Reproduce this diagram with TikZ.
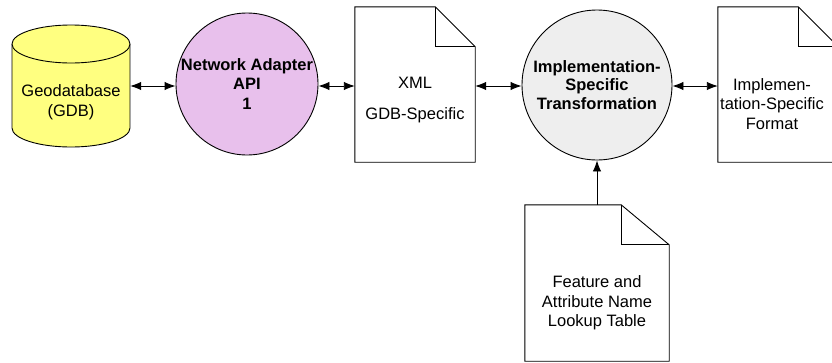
\documentclass[tikz,border=0pt]{standalone}
\usepackage{fontspec}
\setmainfont{Liberation Sans}
\usetikzlibrary{arrows.meta}
\definecolor{dbyellow}{RGB}{255,255,128}
\definecolor{apipurple}{RGB}{232,192,236}
\definecolor{trgray}{RGB}{238,238,238}
\begin{document}
\begin{tikzpicture}[x=1pt,y=-1pt,
  every node/.style={font=\fontsize{16.5}{19.5}\selectfont, align=center, inner sep=0pt},
  lw/.style={line width=0.9pt},
  conn/.style={lw, {Latex[length=11pt,width=8.5pt]}-{Latex[length=11pt,width=8.5pt]}},
  oneway/.style={lw, -{Latex[length=11pt,width=8.5pt]}},
  frame/.style={draw=none, rectangle, minimum width=#1},
  circ/.style={circle, draw, lw, minimum size=#1},
]
\useasboundingbox (0,0) rectangle (832,362);
\begin{scope}
\clip (-1,-1) rectangle (833,363);
% cylinder
\fill[dbyellow] (12,44) rectangle (130,128);
\fill[dbyellow] (71,128) ellipse [x radius=59, y radius=19];
\draw[lw] (12,44) -- (12,128) arc[start angle=180, end angle=0, x radius=59, y radius=19] -- (130,44);
\draw[lw, fill=dbyellow] (71,44) ellipse [x radius=59, y radius=19];
\node[frame=118, minimum height=122] (gdb) at (71,86) {};
\node at (71,102) {Geodatabase\\(GDB)};

% API circle
\node[circ=142pt, fill=apipurple, font=\bfseries\fontsize{16.5}{19.5}\selectfont] (api) at (247,84) {Network Adapter\\API\\1};

% XML doc
\node[frame=120, minimum height=155] (xml) at (415,84.5) {};
\draw[lw, fill=white] (xml.south west) -- (xml.north west) -- ([xshift=-40]xml.north east) -- ([yshift=-40]xml.north east) -- (xml.south east) -- cycle;
\draw[lw] ([xshift=-40]xml.north east) -- ([xshift=-40,yshift=-40]xml.north east) -- ([yshift=-40]xml.north east);
\node at (415,100) {XML\\[11pt]GDB-Specific};

% Transformation circle
\node[circ=150pt, fill=trgray, font=\bfseries\fontsize{16.5}{18.5}\selectfont] (tr) at (597,85) {Implementation-\\Specific\\Transformation};

% Implementation specific format doc
\node[frame=120, minimum height=155] (fmt) at (778,84.5) {};
\draw[lw, fill=white] (fmt.south west) -- (fmt.north west) -- ([xshift=-40]fmt.north east) -- ([yshift=-40]fmt.north east) -- (fmt.south east) -- cycle;
\draw[lw] ([xshift=-40]fmt.north east) -- ([xshift=-40,yshift=-40]fmt.north east) -- ([yshift=-40]fmt.north east);
\node at (772,104) {Implemen-\\tation-Specific\\Format};

% Lookup table doc
\node[frame=144, minimum height=156] (lut) at (597,283) {};
\draw[lw, fill=white] (lut.south west) -- (lut.north west) -- ([xshift=-48]lut.north east) -- ([yshift=-40]lut.north east) -- (lut.south east) -- cycle;
\draw[lw] ([xshift=-48]lut.north east) -- ([xshift=-48,yshift=-40]lut.north east) -- ([yshift=-40]lut.north east);
\node at (597,303) {Feature and\\Attribute Name\\Lookup Table};
\end{scope}

% connectors
\draw[conn] (gdb.east |- 0,86) -- (api.west |- 0,86);
\draw[conn] (api.east |- 0,86) -- (xml.west |- 0,86);
\draw[conn] (xml.east |- 0,86) -- (tr.west |- 0,86);
\draw[conn] (tr.east |- 0,86) -- (fmt.west |- 0,86);
\draw[oneway] (lut.north) -- (tr.south);
\end{tikzpicture}
\end{document}
